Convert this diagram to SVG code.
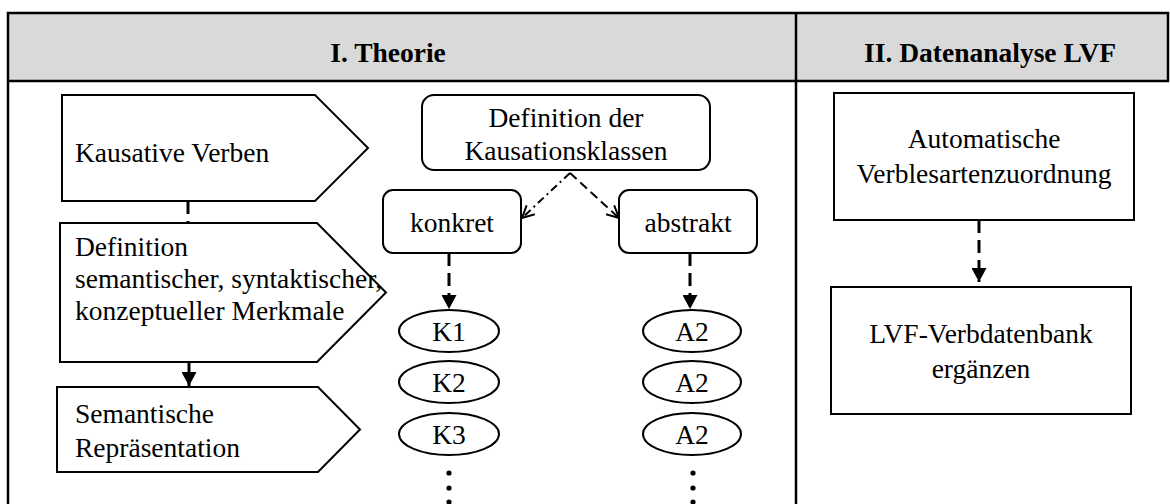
<svg xmlns="http://www.w3.org/2000/svg" width="1170" height="504" viewBox="0 0 1170 504" font-family="'Liberation Serif', 'Times New Roman', Times, serif">
  <defs>
    <!-- filled head for the heavy dashed/solid arrows -->
    <marker id="solidHead" markerUnits="userSpaceOnUse" viewBox="0 0 14 15" markerWidth="14" markerHeight="15" refX="14" refY="7.5" orient="auto">
      <path d="M0,0 L14,7.5 L0,15 Z" fill="#000"/>
    </marker>
    <!-- open stick head for the thin branch arrows -->
    <marker id="openHead" markerUnits="userSpaceOnUse" viewBox="0 0 14 14" markerWidth="14" markerHeight="14" refX="13" refY="7" orient="auto">
      <path d="M1,1 L13,7 L1,13" fill="none" stroke="#000" stroke-width="2"/>
    </marker>
  </defs>
  <style>
    .frame{fill:none;stroke:#000;stroke-width:2.5}
    .box{fill:#fff;stroke:#000;stroke-width:2}
    .t{font-family:'Liberation Serif', 'Times New Roman', Times, serif;font-size:27.5px;fill:#000}
    .c{text-anchor:middle}
    .h{font-weight:bold}
    .heavy{fill:none;stroke:#000;stroke-width:3;stroke-dasharray:13 7}
    .solid{fill:none;stroke:#000;stroke-width:3}
    .thin{fill:none;stroke:#000;stroke-width:2}
  </style>

  <rect width="1170" height="504" fill="#fff"/>

  <!-- table frame with grey header row -->
  <g id="frame">
    <rect x="8" y="13" width="1160" height="68" fill="#d9d9d9"/>
    <path class="frame" d="M8,504 V13 H1168 V81 H8 M796,13 V504"/>
    <text class="t c h" x="388" y="62">I. Theorie</text>
    <text class="t c h" x="990" y="62">II. Datenanalyse LVF</text>
  </g>

  <!-- connectors -->
  <g id="connectors">
    <line class="heavy" x1="188" y1="201" x2="188" y2="223"/>
    <line class="solid" x1="189" y1="362" x2="189" y2="386" marker-end="url(#solidHead)"/>
    <line class="thin" x1="570" y1="173" x2="522" y2="218" stroke-dasharray="8 4 2 4" marker-end="url(#openHead)"/>
    <line class="thin" x1="570" y1="173" x2="619" y2="218" stroke-dasharray="9 5" marker-end="url(#openHead)"/>
    <line class="heavy" x1="449" y1="253" x2="449" y2="309" marker-end="url(#solidHead)"/>
    <line class="heavy" x1="690" y1="253" x2="690" y2="309" marker-end="url(#solidHead)"/>
    <line class="heavy" x1="979" y1="220" x2="979" y2="282" marker-end="url(#solidHead)"/>
  </g>

  <!-- left column: process steps -->
  <g id="kausative-verben">
    <polygon class="box" points="62,95 315,95 368,148 315,201 62,201"/>
    <text class="t" x="75" y="162">Kausative Verben</text>
  </g>
  <g id="definition-merkmale">
    <polygon class="box" points="60,223 317,223 386,292.5 317,362 60,362"/>
    <text class="t" x="75" y="256">Definition</text>
    <text class="t" x="75" y="288">semantischer, syntaktischer,</text>
    <text class="t" x="75" y="320">konzeptueller Merkmale</text>
  </g>
  <g id="semantische-repraesentation">
    <polygon class="box" points="57,387 318,387 360,429.5 318,472 57,472"/>
    <text class="t" x="75" y="423">Semantische</text>
    <text class="t" x="75" y="457">Repräsentation</text>
  </g>

  <!-- middle column: causation classes -->
  <g id="definition-kausationsklassen">
    <rect class="box" x="422" y="95" width="288" height="75" rx="12"/>
    <text class="t c" x="566" y="127">Definition der</text>
    <text class="t c" x="566" y="160">Kausationsklassen</text>
  </g>
  <g id="konkret">
    <rect class="box" x="383" y="190" width="138" height="63" rx="10"/>
    <text class="t c" x="452" y="232">konkret</text>
  </g>
  <g id="abstrakt">
    <rect class="box" x="619" y="190" width="138" height="63" rx="10"/>
    <text class="t c" x="688" y="232">abstrakt</text>
  </g>
  <g id="k1">
    <ellipse class="box" cx="449" cy="331" rx="50" ry="21"/>
    <text class="t c" x="449" y="341">K1</text>
  </g>
  <g id="k2">
    <ellipse class="box" cx="449" cy="382" rx="50" ry="21"/>
    <text class="t c" x="449" y="392">K2</text>
  </g>
  <g id="k3">
    <ellipse class="box" cx="449" cy="434" rx="50" ry="21"/>
    <text class="t c" x="449" y="444">K3</text>
  </g>
  <g id="a2-1">
    <ellipse class="box" cx="692" cy="331" rx="49" ry="21"/>
    <text class="t c" x="692" y="341">A2</text>
  </g>
  <g id="a2-2">
    <ellipse class="box" cx="692" cy="382" rx="49" ry="21"/>
    <text class="t c" x="692" y="392">A2</text>
  </g>
  <g id="a2-3">
    <ellipse class="box" cx="692" cy="434" rx="49" ry="21"/>
    <text class="t c" x="692" y="444">A2</text>
  </g>
  <g id="ellipsis-dots">
    <circle cx="449" cy="473" r="2.6"/>
    <circle cx="449" cy="488" r="2.6"/>
    <circle cx="449" cy="502" r="2.6"/>
    <circle cx="693" cy="473" r="2.6"/>
    <circle cx="693" cy="488" r="2.6"/>
    <circle cx="693" cy="502" r="2.6"/>
  </g>

  <!-- right column: data analysis -->
  <g id="verblesartenzuordnung">
    <rect class="box" x="834" y="93" width="300" height="127"/>
    <text class="t c" x="984" y="148">Automatische</text>
    <text class="t c" x="984" y="183">Verblesartenzuordnung</text>
  </g>
  <g id="verbdatenbank">
    <rect class="box" x="831" y="287" width="300" height="127"/>
    <text class="t c" x="981" y="343">LVF-Verbdatenbank</text>
    <text class="t c" x="981" y="378">ergänzen</text>
  </g>
</svg>
